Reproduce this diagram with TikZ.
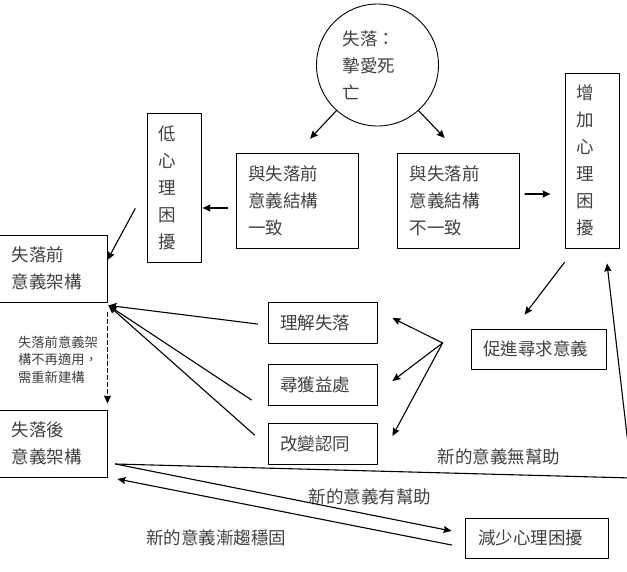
\documentclass[tikz,border=0pt]{standalone}
\usepackage{fontspec}
\newfontfamily\cjk{Noto Sans CJK TC}
\usetikzlibrary{arrows.meta}

\begin{document}
\begin{tikzpicture}[x=1pt,y=-1pt,>={Stealth[length=8pt,width=7pt,inset=1pt]},line cap=round,line join=round,
  box/.style={draw,line width=0.9pt,inner ysep=0pt,align=left,text=black!75,font=\cjk\fontsize{17.5}{27}\selectfont},
  note/.style={text=black!75,font=\cjk\fontsize{17.5}{27}\selectfont},
  arr/.style={->,line width=1.1pt}]
\useasboundingbox (0,0) rectangle (627,571);
\node[box,circle,minimum size=122pt,inner sep=0pt,text width=70pt] (loss) at (377.5,65) {失落：\\摯愛死\\亡};
\node[box,minimum height=149pt,inner xsep=11pt,text width=32pt] (low) at (174,187.5) {低\\心\\理\\困\\擾};
\node[box,minimum height=175pt,inner xsep=11pt,text width=32pt] (more) at (592,160.5) {增\\加\\心\\理\\困\\擾};
\node[box,minimum height=95pt,inner xsep=12pt,text width=98pt] (same) at (297,200.5) {與失落前\\意義結構\\一致};
\node[box,minimum height=95pt,inner xsep=12pt,text width=98pt] (diff) at (458.5,200.5) {與失落前\\意義結構\\不一致};
\node[box,minimum height=67pt,inner xsep=13.5pt,text width=81.5pt] (pre) at (52.75,268.5) {失落前\\意義架構};
\node[box,minimum height=67pt,inner xsep=13.5pt,text width=81.5pt] (post) at (52.75,443.5) {失落後\\意義架構};
\node[box,minimum height=41pt,inner xsep=12pt,text width=85pt] (grasp) at (322.5,322.5) {理解失落};
\node[box,minimum height=41pt,inner xsep=12pt,text width=85pt] (benefit) at (322.5,385) {尋獲益處};
\node[box,minimum height=41pt,inner xsep=12pt,text width=85pt] (identity) at (322.5,444) {改變認同};
\node[box,minimum height=40pt,inner xsep=12pt,text width=111pt] (seek) at (538.5,349) {促進尋求意義};
\node[box,minimum height=40pt,inner xsep=13pt,text width=117pt] (relief) at (536.5,538) {減少心理困擾};
\node[note] (nohelp) at (499,457) {新的意義無幫助};
\node[note] (help) at (370,497) {新的意義有幫助};
\node[note] (stable) at (216,538) {新的意義漸趨穩固};
\node[align=left,text=black!75,font=\cjk\fontsize{13.3}{17.5}\selectfont] (rebuild) at (58,359.5) {失落前意義架\\構不再適用，\\需重新建構};
\coordinate (fan) at ([xshift=-28pt,yshift=6pt]seek.west);
\coordinate (turn) at (632,478);
\draw[arr,shorten >=19pt] (loss.228) -- (same.north);
\draw[arr,shorten >=20pt] (loss.312) -- (diff.north);
\draw[arr,shorten <=8pt,shorten >=1pt] ([yshift=-7.5pt]same.west) -- ([yshift=-20.5pt]low.east);
\draw[arr,shorten <=5pt,shorten >=14pt] ([yshift=6.5pt]diff.east) -- ([yshift=-33.5pt]more.west);
\draw[arr,shorten <=24pt] (low.west) -- ([yshift=8.5pt]pre.east);
\draw[arr,shorten <=17.5pt,shorten >=17.5pt] ([xshift=10.6pt]more.south west) -- ([xshift=43.4pt]seek.north west);
\draw[arr] (fan) -- ([xshift=15pt,yshift=4.5pt]grasp.east);
\draw[arr] (fan) -- ([xshift=15pt,yshift=4pt]benefit.east);
\draw[arr] (fan) -- ([xshift=15pt,yshift=8pt]identity.east);
\draw[arr] ([xshift=-10pt,yshift=-1.5pt]grasp.west) -- ([xshift=1pt,yshift=-3pt]pre.south east);
\draw[arr] ([xshift=-16pt,yshift=-15pt]benefit.west) -- ([xshift=1pt,yshift=-3pt]pre.south east);
\draw[arr] ([xshift=-13pt,yshift=9pt]identity.west) -- ([xshift=1pt,yshift=-3pt]pre.south east);
\draw[arr,dash pattern=on 4pt off 3pt,shorten <=10pt,shorten >=6pt] (pre.south east) -- (post.north east);
\draw[arr] ([xshift=8pt,yshift=-20.5pt]post.east) -- (turn) -- ([xshift=15pt,yshift=-15pt]more.south);
\draw[arr] ([xshift=8pt,yshift=-20.5pt]post.east) -- ([xshift=-13pt,yshift=7pt]relief.west);
\draw[arr] ([xshift=-13pt,yshift=-7pt]relief.west) -- ([xshift=10pt,yshift=-35.5pt]post.east);
\end{tikzpicture}
\end{document}
